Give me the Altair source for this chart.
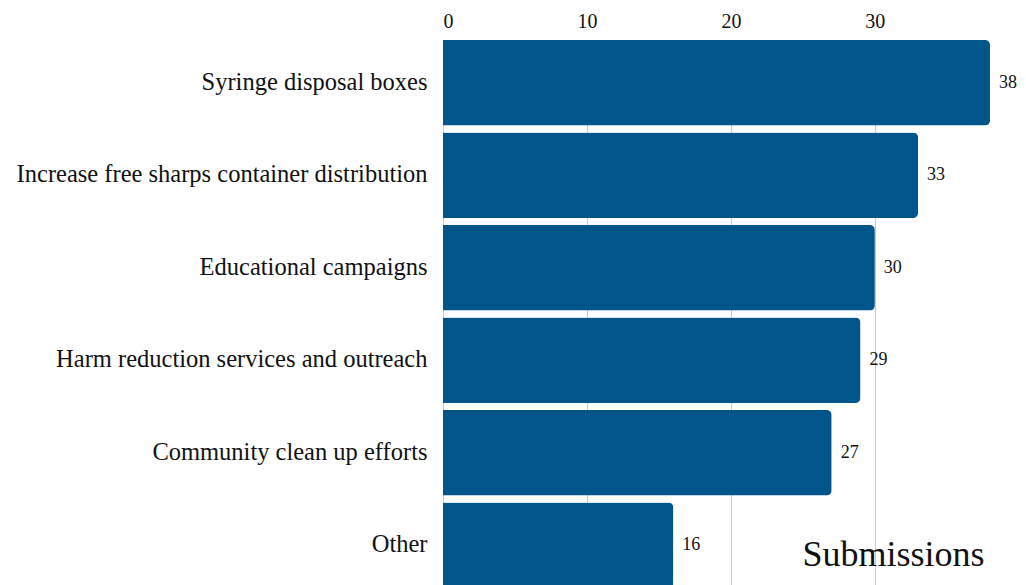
import altair as alt
import pandas as pd

categories = [
    "Syringe disposal boxes",
    "Increase free sharps container distribution",
    "Educational campaigns",
    "Harm reduction services and outreach",
    "Community clean up efforts",
    "Other",
]
submissions = [38, 33, 30, 29, 27, 16]

df = pd.DataFrame({"category": categories, "submissions": submissions})

FONT = "Liberation Serif"

x_enc = alt.X(
    "submissions:Q",
    scale=alt.Scale(nice=False, zero=True),
    axis=alt.Axis(
        orient="top",
        values=[0, 10, 20, 30],
        grid=True,
        gridColor="#c8c8c8",
        gridWidth=1,
        domain=False,
        ticks=False,
        labelFont=FONT,
        labelFontSize=20,
        labelColor="#111",
        labelPadding=9,
        title="Submissions",
        titleFont=FONT,
        titleFontSize=36,
        titleFontWeight="normal",
        titleColor="#111",
        titleAlign="center",
        titleBaseline="alphabetic",
        titleX=450,
        titleY=525,
    ),
)
y_enc = alt.Y(
    "category:N",
    sort=categories,
    scale=alt.Scale(paddingInner=0.076, paddingOuter=0),
    axis=alt.Axis(
        title=None,
        domain=False,
        ticks=False,
        labelFont=FONT,
        labelFontSize=24.5,
        labelColor="#111",
        labelPadding=16,
        labelLimit=0,
    ),
)

bars = alt.Chart(df).mark_bar(color="#00558a", cornerRadiusEnd=5).encode(x=x_enc, y=y_enc)

labels = alt.Chart(df).mark_text(
    align="left", baseline="middle", dx=9, font=FONT, fontSize=18, color="#111"
).encode(
    x=alt.X("submissions:Q"),
    y=alt.Y("category:N", sort=categories),
    text="submissions:Q",
)

chart = (
    alt.layer(bars, labels)
    .properties(
        width=547,
        height=548,
        autosize=alt.AutoSizeParams(type="none"),
        padding={"left": 435, "top": 32, "right": 28, "bottom": 0},
    )
    .configure_view(stroke=None)
)

chart.save("out.html", embed_options={"renderer": "svg", "actions": False})
